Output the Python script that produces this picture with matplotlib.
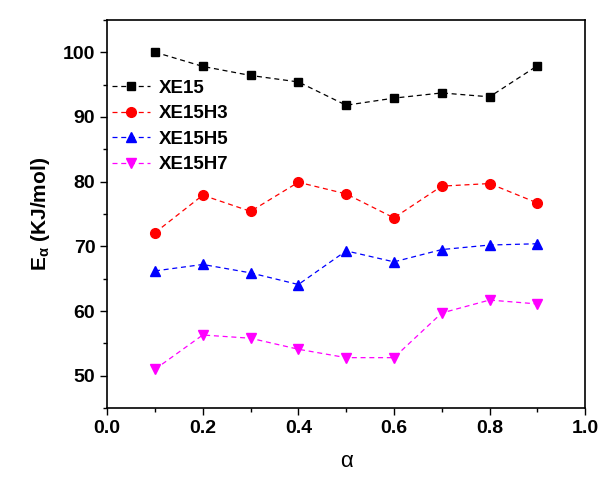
import matplotlib
matplotlib.use('Agg')
import matplotlib.pyplot as plt
from matplotlib.ticker import MultipleLocator, FormatStrFormatter

plt.rcParams['font.family'] = ['Liberation Sans', 'DejaVu Sans']

alpha = [0.1, 0.2, 0.3, 0.4, 0.5, 0.6, 0.7, 0.8, 0.9]
xe15 = [100.0, 97.8, 96.4, 95.4, 91.8, 92.9, 93.7, 93.1, 97.9]
xe15h3 = [72.1, 77.9, 75.4, 79.9, 78.1, 74.4, 79.3, 79.7, 76.7]
xe15h5 = [66.2, 67.2, 65.9, 64.1, 69.3, 67.6, 69.5, 70.2, 70.4]
xe15h7 = [51.0, 56.3, 55.8, 54.1, 52.8, 52.8, 59.7, 61.7, 61.1]

series = [
    ('XE15', xe15, 'black', 's', 6),
    ('XE15H3', xe15h3, 'red', 'o', 7),
    ('XE15H5', xe15h5, 'blue', '^', 7),
    ('XE15H7', xe15h7, 'magenta', 'v', 7),
]

fig = plt.figure(figsize=(6.02, 4.83), dpi=100)
ax = fig.add_axes([0.178, 0.155, 0.794, 0.804])

for name, vals, col, mk, ms in series:
    ax.plot(alpha, vals, linestyle='--', dashes=(4, 3), color=col, linewidth=0.9,
            marker=mk, markersize=ms, markeredgecolor=col, label=name)

ax.set_xlim(0, 1.0)
ax.set_ylim(45, 105)
ax.xaxis.set_major_locator(MultipleLocator(0.2))
ax.xaxis.set_minor_locator(MultipleLocator(0.1))
ax.yaxis.set_major_locator(MultipleLocator(10))
ax.yaxis.set_minor_locator(MultipleLocator(5))
ax.yaxis.set_major_formatter(FormatStrFormatter('%d'))
ax.xaxis.set_major_formatter(FormatStrFormatter('%.1f'))
ax.tick_params(which='major', direction='out', length=5, width=1)
ax.tick_params(which='minor', direction='out', length=3, width=1)
for lab in ax.get_xticklabels() + ax.get_yticklabels():
    lab.set_fontsize(14)
    lab.set_fontweight('bold')
for sp in ax.spines.values():
    sp.set_linewidth(1.2)

ax.set_xlabel('α', fontsize=16, labelpad=10)
ax.set_ylabel(r'E$_\mathregular{α}$ (KJ/mol)', fontsize=15, fontweight='bold', labelpad=8)

leg = ax.legend(loc='upper left', bbox_to_anchor=(-0.025, 0.89), frameon=False,
                prop={'weight': 'bold', 'size': 13.5}, handlelength=2.0,
                handletextpad=0.5, labelspacing=0.45)

fig.savefig('out.png', dpi=100)
